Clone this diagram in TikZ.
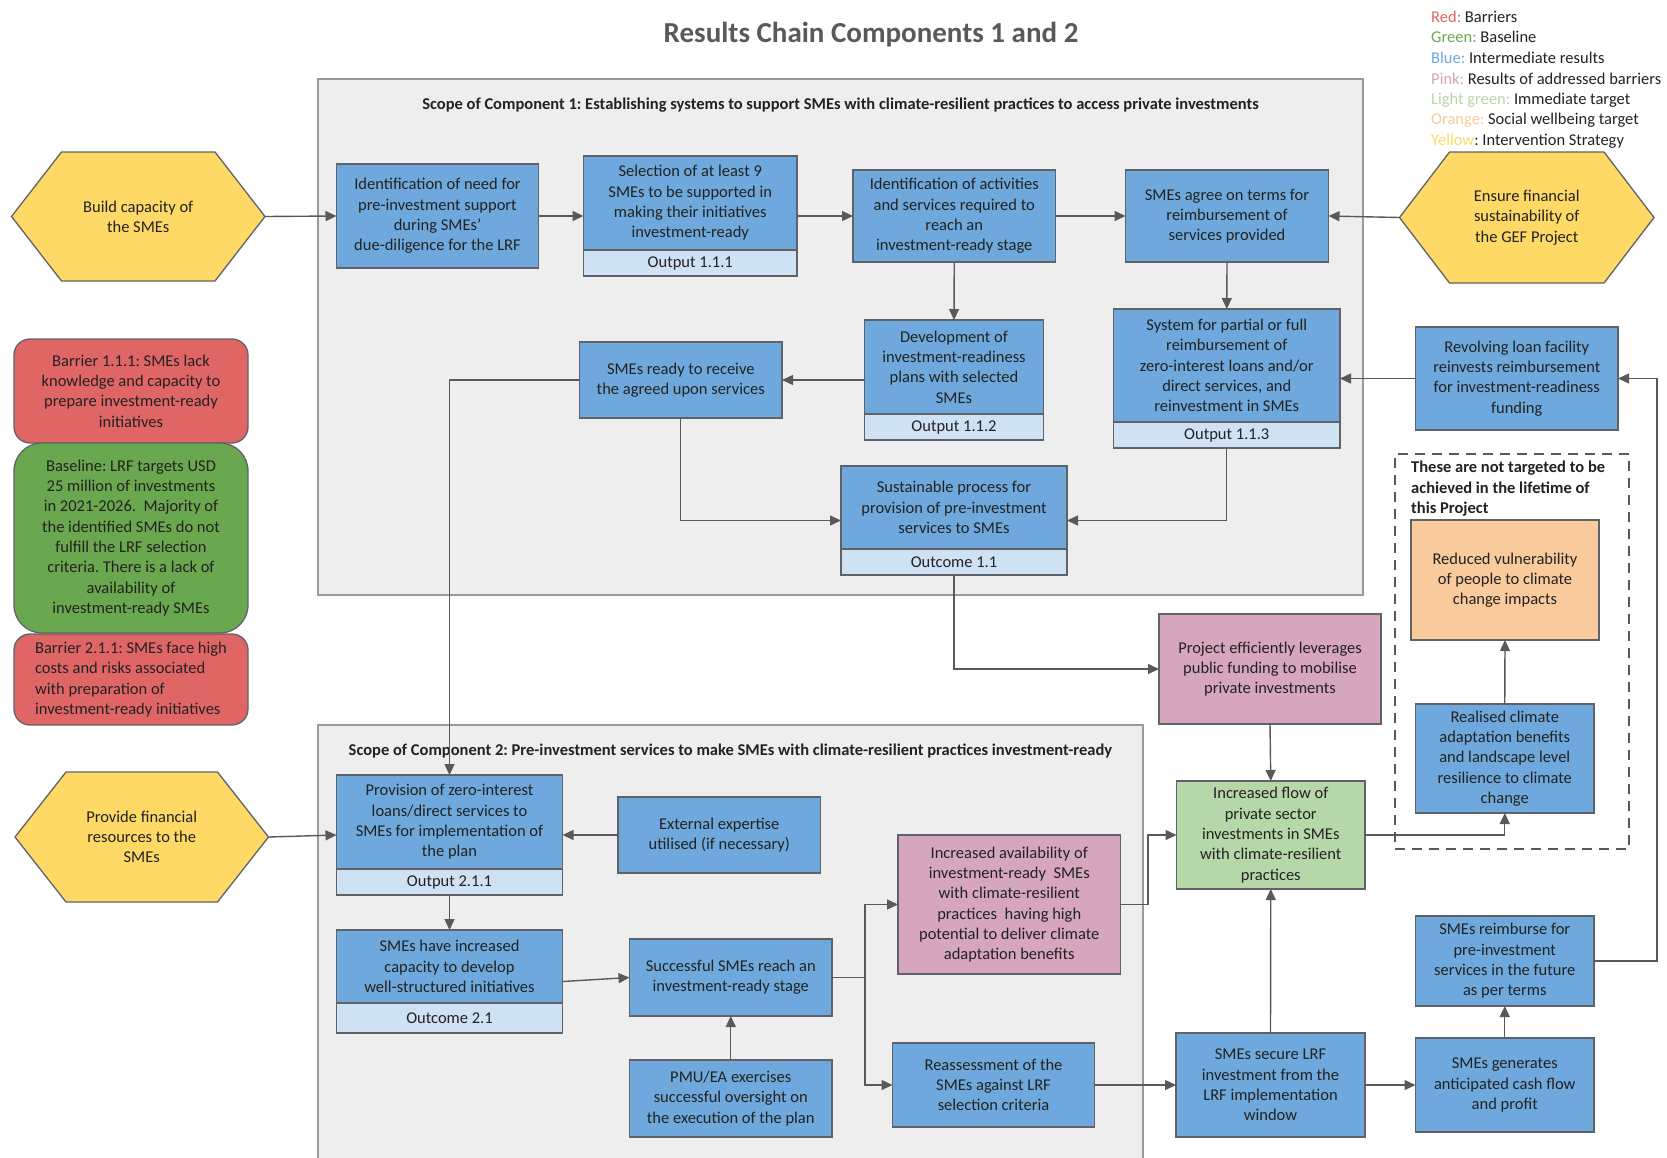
\documentclass[tikz,border=0pt]{standalone}
\usepackage{fontspec}
\setmainfont{Carlito}
\usetikzlibrary{arrows.meta}

\definecolor{boxblue}{HTML}{6FA8DC}
\definecolor{stripblue}{HTML}{CFE2F3}
\definecolor{edgegray}{HTML}{5F6368}
\definecolor{linegray}{HTML}{595959}
\definecolor{panelfill}{HTML}{EEEEEE}
\definecolor{paneledge}{HTML}{999999}
\definecolor{barred}{HTML}{E06666}
\definecolor{basegreen}{HTML}{6AA84F}
\definecolor{resultpink}{HTML}{D5A6BD}
\definecolor{targetgreen}{HTML}{B6D7A8}
\definecolor{wellorange}{HTML}{F9CB9C}
\definecolor{stratyellow}{HTML}{FFD966}
\definecolor{ink}{HTML}{222222}
\definecolor{titlegray}{HTML}{595959}

\newcommand{\bodyfont}{\fontsize{16.5}{20.3}\selectfont}
\newcommand{\legendfont}{\fontsize{16.5}{20.5}\selectfont}

\tikzset{
  card/.style={draw=edgegray, line width=1.3pt, text=ink, font=\bodyfont, align=center, inner sep=2pt, outer sep=0pt},
  bluecard/.style={card, fill=boxblue},
  stripcard/.style={card, fill=stripblue},
  pinkcard/.style={card, fill=resultpink},
  greencard/.style={card, fill=targetgreen},
  orangecard/.style={card, fill=wellorange},
  barrier/.style={card, fill=barred, rounded corners=16pt},
  basecard/.style={card, fill=basegreen, rounded corners=28pt},
  striplabel/.style={text=ink, font=\bodyfont, inner sep=0pt},
  panel/.style={draw=paneledge, line width=1.3pt, fill=panelfill, outer sep=0pt},
  paneltitle/.style={text=ink, font=\bodyfont\bfseries, inner sep=0pt},
  dashframe/.style={draw=linegray, line width=2.4pt, dash pattern=on 10pt off 7pt, outer sep=0pt},
  notetext/.style={text=ink, font=\bodyfont\bfseries, align=left, inner sep=0pt},
  hexlabel/.style={text=ink, font=\bodyfont, align=center, inner sep=0pt, outer sep=0pt},
  hexshape/.style={fill=stratyellow, draw=edgegray, line width=1.3pt},
  legend/.style={text=ink, font=\legendfont, inner sep=0pt, anchor=base west},
  link/.style={draw=linegray, line width=1.4pt, -{Triangle[length=11pt,width=10pt]}},
}

% box given by its corners: style, name, x1, y1, x2, y2, text
\newcommand{\blk}[7]{\node[#1, minimum width={#5-#3}, minimum height={#6-#4}] (#2) at ({(#3+#5)/2},{(#4+#6)/2}) {#7};}
% box with a labelled strip at its foot: name, x1, y1, x2, y2, split, text, strip label
\newcommand{\stripblk}[8]{%
  \node[stripcard, minimum width={#4-#2}, minimum height={#5-#3}] (#1) at ({(#2+#4)/2},{(#3+#5)/2}) {};
  \node[bluecard, minimum width={#4-#2}, minimum height={#6-#3}] (#1-m) at ({(#2+#4)/2},{(#3+#6)/2}) {#7};
  \node[striplabel] (#1-s) at ({(#2+#4)/2},{(#6+#5)/2}) {#8};}
% stretched hexagon: name, x1, y1, x2, y2, inset, text
\newcommand{\hexblk}[7]{%
  \path[hexshape] (#2,{(#3+#5)/2}) -- ({#2+#6},#3) -- ({#4-#6},#3) -- (#4,{(#3+#5)/2}) -- ({#4-#6},#5) -- ({#2+#6},#5) -- cycle;
  \node[hexlabel, minimum width={#4-#2}, minimum height={#5-#3}] (#1) at ({(#2+#4)/2},{(#3+#5)/2}) {#7};}

\begin{document}
\frenchspacing
\begin{tikzpicture}[x=1pt,y=-1pt]
\useasboundingbox (0,0) rectangle (1667,1157);
\fill[white] (0,0) rectangle (1667,1157);

% heading and colour key
\node[font=\fontsize{29}{34}\selectfont\bfseries, text=titlegray] (title) at (871,35) {Results Chain Components 1 and 2};
\node[legend] (key1) at (1431,22) {\textcolor{barred}{Red:} Barriers};
\node[legend] (key2) at (1431,42) {\textcolor{basegreen}{Green:} Baseline};
\node[legend] (key3) at (1431,63) {\textcolor{boxblue}{Blue:} Intermediate results};
\node[legend] (key4) at (1431,84) {\textcolor{resultpink}{Pink:} Results of addressed barriers};
\node[legend] (key5) at (1431,104) {\textcolor{targetgreen}{Light green:} Immediate target};
\node[legend] (key6) at (1431,124) {\textcolor{wellorange}{Orange:} Social wellbeing target};
\node[legend] (key7) at (1431,145) {\textcolor{stratyellow}{Yellow}: Intervention Strategy};

% component panels
\blk{panel}{scope1}{318}{79}{1363}{595}{}
\blk{panel}{scope2}{318}{725}{1143}{1200}{}
\node[paneltitle] (scope1-t) at (840.5,105) {Scope of Component 1: Establishing systems to support SMEs with climate-resilient practices to access private investments};
\node[paneltitle] (scope2-t) at (730.5,751) {Scope of Component 2: Pre-investment services to make SMEs with climate-resilient practices investment-ready};

% long-term frame
\blk{dashframe}{horizon}{1395}{454}{1629}{849}{}
\node[notetext, anchor=north west] (horizon-t) at (1411,461) {These are not targeted to be\\achieved in the lifetime of\\this Project};

% intervention strategies
\hexblk{build}{11.5}{152}{265}{281}{50}{Build capacity of\\the SMEs}
\hexblk{ensure}{1399.5}{152}{1654}{283}{50}{Ensure financial\\sustainability of\\the GEF Project}
\hexblk{provide}{15}{772}{268.5}{902}{51}{Provide financial\\resources to the\\SMEs}

% barriers and baseline
\blk{barrier}{bar1}{14}{339}{248}{443}{Barrier 1.1.1: SMEs lack\\knowledge and capacity to\\prepare investment-ready\\initiatives}
\blk{basecard}{bline}{14}{443}{248}{633}{Baseline: LRF targets USD\\25 million of investments\\in 2021-2026.\ \ Majority of\\the identified SMEs do not\\fulfill the LRF selection\\criteria. There is a lack of\\availability of\\investment-ready SMEs}
\blk{barrier, align=left}{bar2}{14}{634}{248}{725}{Barrier 2.1.1: SMEs face high\\costs and risks associated\\with preparation of\\investment-ready initiatives}

% component 1
\blk{bluecard}{need}{336.5}{164}{538.5}{268}{Identification of need for\\pre-investment support\\during SMEs’\\due-diligence for the LRF}
\stripblk{select}{583.5}{156}{797}{276}{250}{Selection of at least 9\\SMEs to be supported in\\making their initiatives\\investment-ready}{Output 1.1.1}
\blk{bluecard}{activ}{853}{170}{1055.5}{262}{Identification of activities\\and services required to\\reach an\\investment-ready stage}
\blk{bluecard}{agree}{1125.5}{170}{1328.5}{262}{SMEs agree on terms for\\reimbursement of\\services provided}
\stripblk{plans}{864.5}{320}{1043.5}{440}{414}{Development of\\investment-readiness\\plans with selected\\SMEs}{Output 1.1.2}
\blk{bluecard}{ready}{579.5}{342}{782}{418}{SMEs ready to receive\\the agreed upon services}
\stripblk{reimb}{1113.5}{309}{1340}{448}{422}{System for partial or full\\reimbursement of\\zero-interest loans and/or\\direct services, and\\reinvestment in SMEs}{Output 1.1.3}
\blk{bluecard}{revolve}{1415.5}{327}{1618}{430}{Revolving loan facility\\reinvests reimbursement\\for investment-readiness\\funding}
\stripblk{sustain}{841}{466}{1067}{575}{549}{Sustainable process for\\provision of pre-investment\\services to SMEs}{Outcome 1.1}

% results on the right
\blk{pinkcard}{leverage}{1159}{614}{1381}{724}{Project efficiently leverages\\public funding to mobilise\\private investments}
\blk{orangecard}{vulner}{1411}{520}{1599}{640}{Reduced vulnerability\\of people to climate\\change impacts}
\blk{bluecard}{realised}{1415.5}{704}{1594}{813}{Realised climate\\adaptation benefits\\and landscape level\\resilience to climate\\change}
\blk{greencard}{flow}{1176.5}{781}{1365}{889}{Increased flow of\\private sector\\investments in SMEs\\with climate-resilient\\practices}
\blk{bluecard}{repay}{1415.5}{916}{1594}{1006}{SMEs reimburse for\\pre-investment\\services in the future\\as per terms}
\blk{bluecard}{secure}{1176}{1033}{1365}{1137}{SMEs secure LRF\\investment from the\\LRF implementation\\window}
\blk{bluecard}{cash}{1415.5}{1038}{1594}{1132}{SMEs generates\\anticipated cash flow\\and profit}

% component 2
\stripblk{loans}{336.5}{775}{562.5}{895}{869}{Provision of zero-interest\\loans/direct services to\\SMEs for implementation of\\the plan}{Output 2.1.1}
\blk{bluecard}{expert}{618}{797}{820.5}{873}{External expertise\\utilised (if necessary)}
\stripblk{capac}{336.5}{930}{562.5}{1033}{1003}{SMEs have increased\\capacity to develop\\well-structured initiatives}{Outcome 2.1}
\blk{bluecard}{stage}{629.5}{939}{832}{1016}{Successful SMEs reach an\\investment-ready stage}
\blk{bluecard}{pmu}{629.5}{1060}{832}{1137}{PMU/EA exercises\\successful oversight on\\the execution of the plan}
\blk{pinkcard}{avail}{898}{835}{1120.5}{974}{Increased availability of\\investment-ready\ \ SMEs\\with climate-resilient\\practices\ \ having high\\potential to deliver climate\\adaptation benefits}
\blk{bluecard}{reassess}{892.5}{1043}{1094.5}{1127}{Reassessment of the\\SMEs against LRF\\selection criteria}

% connectors
\draw[link] (build.east) -- (need.west);
\draw[link] (need.east) -- (select.west);
\draw[link] (select.east) -- (activ.west);
\draw[link] (activ.east) -- (agree.west);
\draw[link] (ensure.west) -- (agree.east);
\draw[link] (activ.south) -- (plans.north);
\draw[link] (agree.south) -- (reimb.north);
\draw[link] (plans.west) -- (ready.east);
\draw[link] (ready.south) |- (sustain.west);
\draw[link] (reimb.south) |- (sustain.east);
\draw[link] (revolve.west) -- (reimb.east);
\draw[link] (ready.west) -| (loans.north);
\draw[link] (sustain.south) |- (leverage.west);
\draw[link] (leverage.south) -- (flow.north);
\draw[link] (flow.east) -| (realised.south);
\draw[link] (realised.north) -- (vulner.south);
\draw[link] (repay.east) -- ++(63,0) |- (revolve.east);
\draw[link] (provide.east) -- (loans.west);
\draw[link] (expert.west) -- (loans.east);
\draw[link] (loans.south) -- (capac.north);
\draw[link] (capac.east) -- (stage.west);
\draw[link] (pmu.north) -- (stage.south);
\draw[link] (stage.east) -- ++(33,0) |- (avail.west);
\draw[link] (stage.east) -- ++(33,0) |- (reassess.west);
\draw[link] (avail.east) -- ++(27.5,0) |- (flow.west);
\draw[link] (reassess.east) -- (secure.west);
\draw[link] (secure.north) -- (flow.south);
\draw[link] (secure.east) -- (cash.west);
\draw[link] (cash.north) -- (repay.south);
\end{tikzpicture}
\end{document}
